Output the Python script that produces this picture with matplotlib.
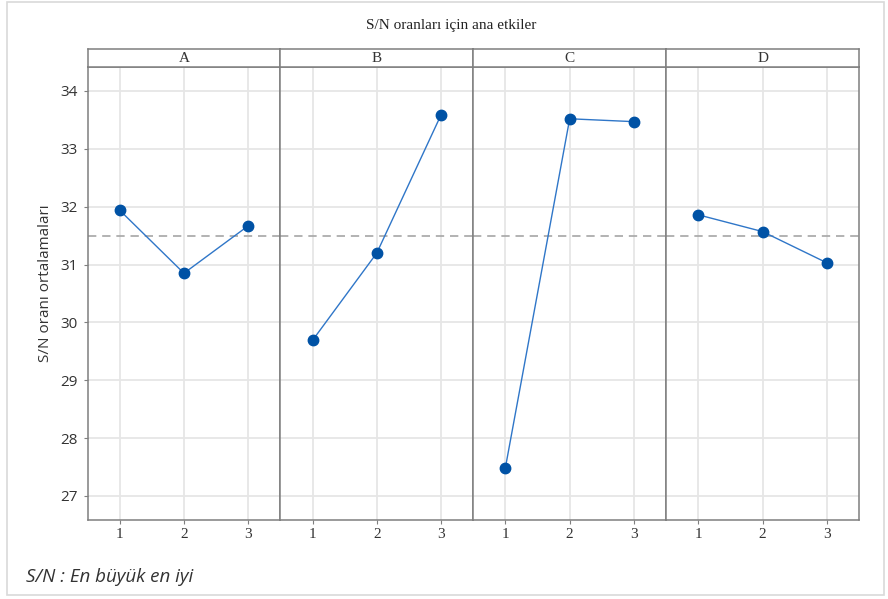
import matplotlib
matplotlib.use("Agg")
import matplotlib.pyplot as plt
from matplotlib.patches import Rectangle

factors = ["A", "B", "C", "D"]
levels = [1, 2, 3]
A_vals = [31.94, 30.85, 31.67]
B_vals = [29.69, 31.20, 33.59]
C_vals = [27.49, 33.52, 33.47]
D_vals = [31.86, 31.57, 31.03]
grand_mean = 31.49
yticks = [27, 28, 29, 30, 31, 32, 33, 34]

allVals = [A_vals, B_vals, C_vals, D_vals]

W, H = 888, 599
fig = plt.figure(figsize=(W / 100, H / 100), dpi=100)

# light frame around the whole graph
fig.patches.append(Rectangle((7 / W, 1 - 595 / H), 877 / W, 593 / H,
                             transform=fig.transFigure, fill=False,
                             edgecolor="#d9d9d9", linewidth=1.2))

left = 87.5 / W
right = 859 / W
pw = (right - left) / 4
bottom = 1 - 520 / H
top = 1 - 66.7 / H
hh = 17.7 / H

spineColor = "#7f7f7f"
lineColor = "#2f76c8"
dotColor = "#0052a5"

for i, (name, vals) in enumerate(zip(factors, allVals)):
    ax = fig.add_axes([left + i * pw, bottom, pw, top - bottom])
    ax.plot(levels, vals, "-", color=lineColor, linewidth=1.0, zorder=3)
    ax.plot(levels, vals, "o", color=dotColor, markersize=7.5, zorder=4)
    ax.axhline(grand_mean, color="#a6a6a6", linestyle=(0, (5, 3.5)),
               linewidth=1.2, zorder=2)
    ax.set_xlim(0.5, 3.5)
    ax.set_ylim(26.585, 34.42)
    ax.set_xticks(levels)
    ax.set_yticks(yticks)
    ax.grid(True, color="#e6e6e6", linewidth=1.3, zorder=0)
    ax.set_axisbelow(True)
    for s in ax.spines.values():
        s.set_color(spineColor)
        s.set_linewidth(1.1)
    ax.tick_params(axis="x", length=3, color=spineColor, labelsize=11,
                   pad=3)
    for lab in ax.get_xticklabels():
        lab.set_fontfamily("Liberation Serif")
        lab.set_color("#333333")
    if i == 0:
        ax.tick_params(axis="y", length=3, color=spineColor, labelsize=11,
                       pad=4)
        for lab in ax.get_yticklabels():
            lab.set_fontfamily("Open Sans")
            lab.set_color("#333333")
        ax.set_ylabel("S/N oranı ortalamaları", fontsize=11,
                      family="Open Sans", color="#333333")
        ax.yaxis.set_label_coords(-0.18, 0.523)
    else:
        ax.tick_params(axis="y", length=0, labelleft=False)

    hax = fig.add_axes([left + i * pw, top, pw, hh])
    hax.set_xticks([])
    hax.set_yticks([])
    for s in hax.spines.values():
        s.set_color(spineColor)
        s.set_linewidth(1.1)
    hax.text(0.5, 0.45, name, ha="center", va="center", fontsize=11,
             family="Liberation Serif", color="#333333",
             transform=hax.transAxes)

fig.text(451 / W, 1 - 25 / H, "S/N oranları için ana etkiler", ha="center",
         va="center", fontsize=11, family="Liberation Serif", color="#222222")
fig.text(26 / W, 1 - 577 / H, "S/N : En büyük en iyi", ha="left",
         va="center", fontsize=13.5, family="Open Sans", style="italic",
         color="#333333")

fig.savefig("out.png", dpi=100)
